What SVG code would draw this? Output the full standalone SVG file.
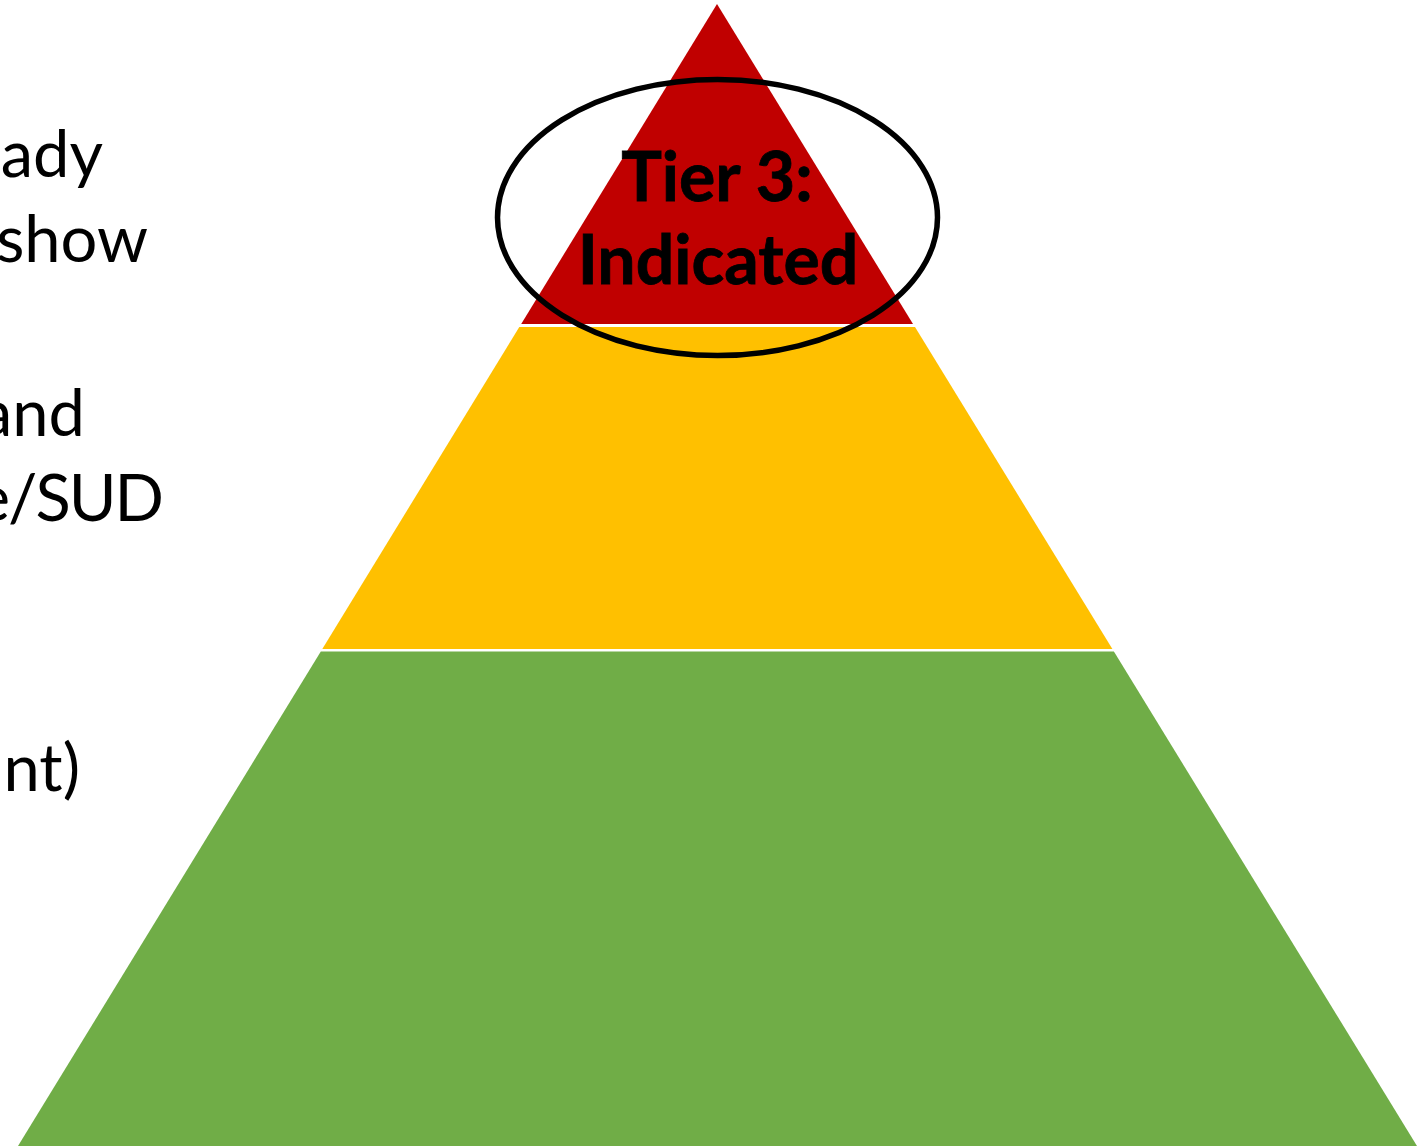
<svg xmlns="http://www.w3.org/2000/svg" width="1417" height="1146" viewBox="0 0 1417 1146">
<style>
.side{font-family:Lato,"Open Sans","Liberation Sans",sans-serif;font-size:65px;fill:#000;text-anchor:end}
.tier{font-family:Lato,"Open Sans","Liberation Sans",sans-serif;font-size:68px;font-weight:bold;fill:#000;text-anchor:middle}
</style>
<rect width="1417" height="1146" fill="#fff"/>
<g id="tier1"><polygon points="320.8,651.5 1113.9,651.5 1417,1146 18,1146" fill="#70AD47"/></g>
<g id="tier2"><polygon points="519.3,327 915,327 1112.4,649 322.3,649" fill="#FFC000"/></g>
<g id="tier3"><polygon points="717,4 913,324 521.2,324" fill="#C00000"/>
<text class="tier" x="717" y="201" stroke="#000" stroke-width="0.8">Tier 3:</text>
<text class="tier" x="718" y="284" stroke="#000" stroke-width="0.8">Indicated</text></g>
<g id="highlight"><ellipse cx="717.5" cy="217.5" rx="220" ry="138" fill="none" stroke="#000" stroke-width="5.5"/></g>
<g id="side-text">
<text class="side" x="103" y="177">ady</text>
<text class="side" x="148" y="262">show</text>
<text class="side" x="85" y="436">and</text>
<text class="side" x="162" y="521" letter-spacing="-2">e/SUD</text>
<text class="side" x="80" y="791">nt)</text>
</g>
</svg>
